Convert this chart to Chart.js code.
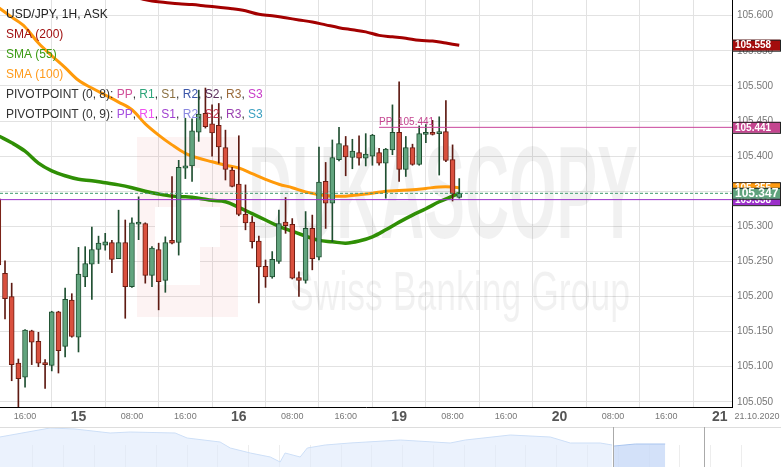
<!DOCTYPE html>
<html lang="en">
<head>
<meta charset="UTF-8" />
<title>USD/JPY, 1H</title>
<script src="https://cdn.jsdelivr.net/npm/chart.js"></script>
<style>
  html, body { margin: 0; padding: 0; background: #fff; }
  #wrap { position: relative; width: 781px; height: 467px; overflow: hidden; }
  #mainChart { position: absolute; left: 0; top: 0; }
  #navChart { position: absolute; left: 0; top: 427px; }
</style>
</head>
<body>
<div id="wrap">
  <canvas id="mainChart" width="781" height="427"></canvas>
  <canvas id="navChart" width="781" height="40"></canvas>
</div>
<script>
// hour index 0 = 14.10 13:00, weekend removed (19.10 00:00 = hour 59)
const firstHour = -1;
const opens  = [105.339,105.233,105.200,105.105,105.085,105.151,105.136,105.106,105.102,105.178,105.129,105.195,105.142,105.228,105.246,105.267,105.273,105.277,105.254,105.277,105.214,105.303,105.304,105.230,105.267,105.223,105.280,105.277,105.383,105.386,105.434,105.461,105.446,105.444,105.412,105.380,105.360,105.317,105.306,105.279,105.243,105.228,105.250,105.306,105.303,105.227,105.223,105.297,105.256,105.364,105.333,105.395,105.415,105.398,105.405,105.397,105.400,105.405,105.390,105.409,105.434,105.381,105.412,105.388,105.431,105.434,105.432,105.435,105.395,105.341];
const highs  = [105.345,105.251,105.219,105.111,105.153,105.152,105.149,105.110,105.179,105.179,105.212,105.204,105.270,105.271,105.299,105.286,105.290,105.280,105.323,105.309,105.312,105.342,105.305,105.271,105.276,105.285,105.371,105.394,105.454,105.453,105.494,105.497,105.473,105.475,105.437,105.384,105.429,105.359,105.314,105.286,105.252,105.264,105.323,105.341,105.311,105.235,105.321,105.316,105.413,105.391,105.423,105.441,105.428,105.424,105.429,105.432,105.431,105.411,105.411,105.473,105.506,105.428,105.417,105.443,105.445,105.451,105.456,105.479,105.416,105.368];
const lows   = [105.233,105.168,105.080,105.043,105.071,105.103,105.100,105.069,105.094,105.091,105.114,105.142,105.121,105.214,105.196,105.247,105.266,105.234,105.254,105.169,105.213,105.281,105.219,105.214,105.181,105.206,105.275,105.259,105.368,105.364,105.421,105.440,105.400,105.390,105.366,105.356,105.315,105.295,105.269,105.191,105.213,105.226,105.247,105.290,105.225,105.200,105.219,105.238,105.252,105.297,105.278,105.393,105.372,105.382,105.387,105.386,105.387,105.387,105.340,105.402,105.364,105.371,105.387,105.387,105.419,105.430,105.373,105.392,105.336,105.340];
const closes = [105.245,105.197,105.103,105.083,105.152,105.135,105.105,105.103,105.178,105.123,105.196,105.143,105.232,105.247,105.267,105.276,105.278,105.253,105.277,105.214,105.305,105.306,105.230,105.269,105.221,105.277,105.276,105.384,105.386,105.436,105.460,105.442,105.433,105.413,105.381,105.357,105.317,105.305,105.278,105.242,105.228,105.253,105.304,105.301,105.226,105.223,105.297,105.254,105.363,105.333,105.398,105.418,105.399,105.407,105.397,105.403,105.430,105.390,105.410,105.434,105.381,105.412,105.388,105.432,105.434,105.431,105.435,105.394,105.346,105.347];

const smaHours = [-1,1,3,5,7,9,11,13,15,17,19,21,23,25,27,29,31,33,35,37,39,41,43,45,47,49,51,53,55,57,59,61,63,65,67,68];
const sma55  = [105.429,105.419,105.407,105.390,105.379,105.372,105.367,105.365,105.362,105.359,105.355,105.350,105.346,105.343,105.342,105.340,105.337,105.335,105.327,105.318,105.309,105.300,105.293,105.286,105.280,105.278,105.276,105.279,105.285,105.295,105.306,105.316,105.325,105.335,105.343,105.347];
const sma100 = [105.612,105.598,105.584,105.561,105.543,105.526,105.508,105.497,105.487,105.477,105.466,105.446,105.430,105.416,105.404,105.397,105.392,105.387,105.383,105.375,105.367,105.360,105.355,105.349,105.345,105.343,105.343,105.345,105.347,105.350,105.351,105.352,105.354,105.356,105.356,105.355];
const sma200Hours = [20,22,24,26,28,30,32,34,36,38,40,42,44,46,48,50,52,54,56,58,60,62,64,66,68];
const sma200 = [105.625,105.621,105.619,105.617,105.616,105.614,105.612,105.610,105.607,105.602,105.600,105.597,105.594,105.591,105.587,105.583,105.580,105.577,105.572,105.570,105.568,105.565,105.564,105.561,105.558];

const pivotPP = 105.441;
const pivotPPStart = 56;
const pivotLevel2 = 105.338;
const lastPrice = 105.347;

const xTickHours  = [3,11,19,27,35,43,51,59,67,75,83,91,99,107];
const xTickLabels = ['16:00','15','08:00','16:00','16','08:00','16:00','19','08:00','16:00','20','08:00','16:00','21'];
const yTickValues = [105.05,105.1,105.15,105.2,105.25,105.3,105.35,105.4,105.45,105.5,105.55,105.6];

const priceTags = [
  { value: 105.558, text: '105.558', color: '#a30d0d' },
  { value: 105.441, text: '105.441', color: '#c4448f' },
  { value: 105.355, text: '105.355', color: '#ff9a10' },
  { value: 105.338, text: '105.338', color: '#9b2fc9' },
  { value: 105.347, text: '105.347', color: '#5fa27c' }
];

// navigator (days)
const navDays   = [-0.06,1.57,2.38,3.52,4.17,5.63,6.02,7.09,7.42,8.07,8.72,9.04,9.20,9.69,9.92,10.50,11.31,12.94,14.56,15.05,16.51,17.81,18.46,19.43,19.82];
const navValues = [30,39,38,34,35,34,29,25,19,14,10,5,14,10,19,22,24,27,24,27,32,30,24,24,22];
const navHiDays   = [19.88,20.57,21.54];
const navHiValues = [21,23,23];
const navHandles  = [19.83,22.80];

const FONT = '"Liberation Sans", Arial, sans-serif';
const hours = opens.map((_, i) => firstHour + i);
const up = hours.map((_, i) => closes[i] >= opens[i]);
const X_MIN = -0.75, X_MAX = 108.83;

const overlay = {
  id: 'overlay',
  beforeDatasetsDraw(chart) {
    const ctx = chart.ctx;
    const a = chart.chartArea;
    ctx.save();
    ctx.beginPath();
    ctx.rect(a.left, a.top, a.right - a.left, a.bottom - a.top);
    ctx.clip();
    // logo block
    ctx.fillStyle = 'rgba(225,80,80,0.07)';
    ctx.fillRect(137, 137, 101, 180);
    ctx.fillStyle = '#fff';
    ctx.fillRect(177, 168, 23, 117);
    ctx.fillRect(155, 207, 65, 40);
    ctx.fillRect(155, 247, 22, 38);
    // watermark text
    ctx.fillStyle = 'rgba(0,0,0,0.055)';
    ctx.font = 'bold 132px ' + FONT;
    let w = ctx.measureText('DUKASCOPY').width;
    ctx.save();
    ctx.translate(248, 238);
    ctx.scale(390 / w, 1);
    ctx.fillText('DUKASCOPY', 0, 0);
    ctx.restore();
    ctx.font = '56px ' + FONT;
    w = ctx.measureText('Swiss Banking Group').width;
    ctx.save();
    ctx.translate(290, 310);
    ctx.scale(340 / w, 1);
    ctx.fillText('Swiss Banking Group', 0, 0);
    ctx.restore();
    ctx.restore();
  },
  afterDraw(chart) {
    const ctx = chart.ctx;
    const a = chart.chartArea;
    const xs = chart.scales.x, ys = chart.scales.y;
    ctx.save();
    // x labels
    ctx.textAlign = 'center';
    ctx.textBaseline = 'middle';
    xTickHours.forEach((h, i) => {
      const lab = xTickLabels[i];
      const day = lab.indexOf(':') < 0;
      ctx.font = day ? 'bold 14px ' + FONT : '9px ' + FONT;
      ctx.fillStyle = day ? '#555' : '#777';
      ctx.fillText(lab, xs.getPixelForValue(h), a.bottom + 10);
    });
    ctx.font = '9px ' + FONT;
    ctx.fillStyle = '#777';
    ctx.fillText('21.10.2020', 757, a.bottom + 10);

    // PP label
    ctx.textAlign = 'left';
    ctx.textBaseline = 'alphabetic';
    ctx.font = '10px ' + FONT;
    ctx.fillStyle = '#c4448f';
    ctx.fillText('PP  105.441', xs.getPixelForValue(pivotPPStart), ys.getPixelForValue(pivotPP) - 2);

    // legend
    ctx.font = '12px ' + FONT;
    ctx.textBaseline = 'middle';
    const rows = [
      [['USD/JPY, 1H, ASK', '#222']],
      [['SMA (200)', '#a01010']],
      [['SMA (55)', '#3b9a12']],
      [['SMA (100)', '#ff9a1a']],
      [['PIVOTPOINT (0, 8): ', '#333'], ['PP', '#d0509a'], [', ', '#333'], ['R1', '#2ea57a'], [', ', '#333'], ['S1', '#8a7040'], [', ', '#333'], ['R2', '#3b56a8'], [', ', '#333'], ['S2', '#5b2d5b'], [', ', '#333'], ['R3', '#9a6a3a'], [', ', '#333'], ['S3', '#c83cc8']],
      [['PIVOTPOINT (0, 9): ', '#333'], ['PP', '#a64fe0'], [', ', '#333'], ['R1', '#f050f0'], [', ', '#333'], ['S1', '#a040d0'], [', ', '#333'], ['R2', '#8a88e0'], [', ', '#333'], ['S2', '#c0304a'], [', ', '#333'], ['R3', '#9a40b0'], [', ', '#333'], ['S3', '#3aa0c0']]
    ];
    rows.forEach((row, r) => {
      let x = 6;
      row.forEach(([t, c]) => {
        ctx.fillStyle = c;
        ctx.fillText(t, x, 15 + r * 20);
        x += ctx.measureText(t).width;
      });
    });

    // price tags on the right axis
    priceTags.forEach((p) => {
      const y = ys.getPixelForValue(p.value);
      const big = p.value === lastPrice;
      ctx.fillStyle = p.color;
      ctx.fillRect(a.right, y - 5.5, 48, 11);
      ctx.strokeStyle = '#222';
      ctx.lineWidth = 1;
      ctx.strokeRect(a.right + 0.5, y - 5, 48, 11);
      ctx.fillStyle = '#fff';
      ctx.font = (big ? 'bold 12px ' : 'bold 10px ') + FONT;
      ctx.fillText(p.text, a.right + 3, y + 0.5);
    });
    ctx.restore();
  }
};

const lineDs = (label, xsArr, ysArr, color, width, order) => ({
  type: 'line', label, order,
  data: xsArr.map((h, i) => ({ x: h, y: ysArr[i] })),
  borderColor: color, borderWidth: width, pointRadius: 0, tension: 0.35, fill: false
});

const hLine = (label, from, value, color, dash, order) => ({
  type: 'line', label, order,
  data: [{ x: from, y: value }, { x: X_MAX, y: value }],
  borderColor: color, borderWidth: 1, borderDash: dash, pointRadius: 0, fill: false
});

new Chart(document.getElementById('mainChart').getContext('2d'), {
  type: 'bar',
  data: {
    datasets: [
      hLine('last', X_MIN, lastPrice, '#3f9a6c', [3, 2], 0),
      hLine('pivot9', X_MIN, pivotLevel2, '#9b30c8', [], 0),
      hLine('PP', pivotPPStart, pivotPP, '#c8449b', [], 0),
      {
        label: 'bodies', order: 1, grouped: false,
        data: hours.map((h, i) => ({ x: h, y: [opens[i], closes[i]] })),
        backgroundColor: up.map(u => u ? '#62a47e' : '#d9503e'),
        borderColor: up.map(u => u ? '#1f4f31' : '#6a1c12'),
        borderWidth: 1, borderSkipped: false, barThickness: 5, minBarLength: 2
      },
      {
        label: 'wicks', order: 2, grouped: false,
        data: hours.map((h, i) => ({ x: h, y: [lows[i], highs[i]] })),
        backgroundColor: up.map(u => u ? '#1f4f31' : '#5e1a12'),
        borderWidth: 0, barThickness: 1
      },
      lineDs('SMA (200)', sma200Hours, sma200, '#a30000', 3, 3),
      lineDs('SMA (55)', smaHours, sma55, '#2f8f05', 3.5, 3),
      lineDs('SMA (100)', smaHours, sma100, '#ff9a0a', 3, 3)
    ]
  },
  options: {
    responsive: false,
    animation: false,
    devicePixelRatio: 1,
    layout: { padding: 0 },
    plugins: { legend: { display: false }, tooltip: { enabled: false } },
    scales: {
      x: {
        type: 'linear', min: X_MIN, max: X_MAX, offset: false,
        afterBuildTicks: (s) => { s.ticks = xTickHours.map(v => ({ value: v })); },
        afterFit: (s) => { s.height = 20; s.paddingLeft = 0; s.paddingRight = 0; },
        ticks: { display: false },
        grid: { color: '#e2e2e2', drawTicks: false },
        border: { color: '#000', width: 1 }
      },
      y: {
        position: 'right', min: 105.0426, max: 105.6224,
        afterBuildTicks: (s) => { s.ticks = yTickValues.map(v => ({ value: v })); },
        afterFit: (s) => { s.width = 49; s.paddingTop = 0; s.paddingBottom = 0; },
        ticks: {
          padding: 5, color: '#777', font: { family: FONT, size: 10 },
          callback: (v) => v.toFixed(3)
        },
        grid: { color: '#e2e2e2', drawTicks: false },
        border: { color: '#000', width: 1 }
      }
    }
  },
  plugins: [overlay]
});

const navDecor = {
  id: 'navDecor',
  beforeDatasetsDraw(chart) {
    const ctx = chart.ctx, a = chart.chartArea, xs = chart.scales.x;
    ctx.save();
    ctx.strokeStyle = 'rgba(0,0,0,0.07)';
    ctx.lineWidth = 1;
    for (let d = 1; d <= 24; d++) {
      const x = Math.round(xs.getPixelForValue(d)) + 0.5;
      ctx.beginPath();
      ctx.moveTo(x, a.top + 18);
      ctx.lineTo(x, a.bottom);
      ctx.stroke();
    }
    ctx.restore();
  },
  afterDraw(chart) {
    const ctx = chart.ctx, a = chart.chartArea, xs = chart.scales.x;
    ctx.save();
    ctx.strokeStyle = '#ddd';
    ctx.beginPath();
    ctx.moveTo(0, 0.5);
    ctx.lineTo(a.right, 0.5);
    ctx.stroke();
    ctx.strokeStyle = '#aaa';
    navHandles.forEach((d) => {
      const x = Math.round(xs.getPixelForValue(d)) + 0.5;
      ctx.beginPath();
      ctx.moveTo(x, a.top);
      ctx.lineTo(x, a.bottom);
      ctx.stroke();
    });
    ctx.restore();
  }
};

new Chart(document.getElementById('navChart').getContext('2d'), {
  type: 'line',
  data: {
    datasets: [
      {
        data: navDays.map((d, i) => ({ x: d, y: navValues[i] })),
        borderColor: '#cddff7', borderWidth: 1, backgroundColor: 'rgba(222,234,252,0.6)',
        fill: 'origin', pointRadius: 0, tension: 0
      },
      {
        data: navHiDays.map((d, i) => ({ x: d, y: navHiValues[i] })),
        borderColor: '#a9c5ef', borderWidth: 1, backgroundColor: 'rgba(200,218,248,0.8)',
        fill: 'origin', pointRadius: 0, tension: 0
      }
    ]
  },
  options: {
    responsive: false,
    animation: false,
    devicePixelRatio: 1,
    layout: { padding: 0 },
    plugins: { legend: { display: false }, tooltip: { enabled: false } },
    scales: {
      x: { type: 'linear', min: -0.055, max: 25.3, display: false },
      y: { min: 0, max: 40, display: false }
    }
  },
  plugins: [navDecor]
});
</script>
</body>
</html>
